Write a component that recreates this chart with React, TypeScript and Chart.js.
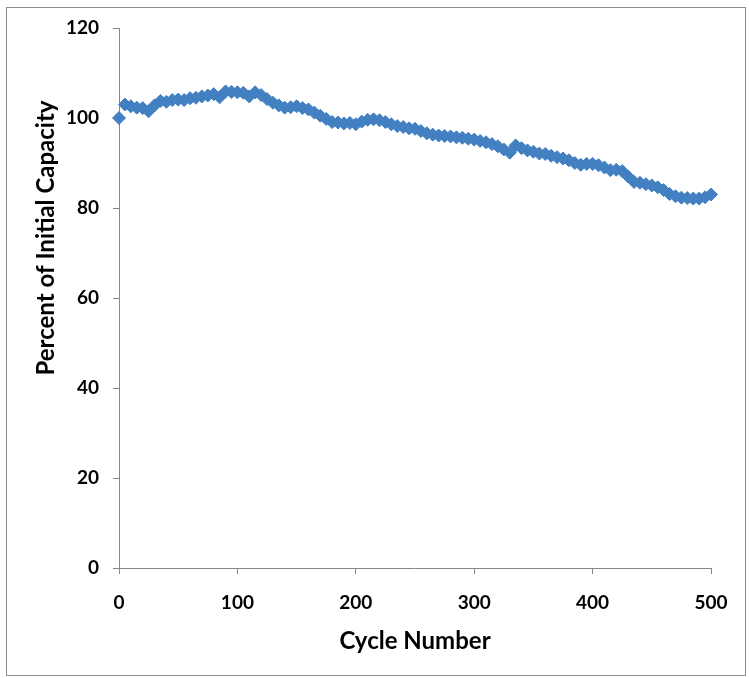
import React, { useEffect, useRef } from 'react';
import { Chart, registerables } from 'chart.js';

Chart.register(...registerables);

const cycles = [
  0, 5, 10, 15, 20, 25, 30, 35, 40, 45, 50, 55, 60, 65, 70, 75, 80, 85, 90, 95,
  100, 105, 110, 115, 120, 125, 130, 135, 140, 145, 150, 155, 160, 165, 170, 175, 180, 185, 190, 195,
  200, 205, 210, 215, 220, 225, 230, 235, 240, 245, 250, 255, 260, 265, 270, 275, 280, 285, 290, 295,
  300, 305, 310, 315, 320, 325, 330, 335, 340, 345, 350, 355, 360, 365, 370, 375, 380, 385, 390, 395,
  400, 405, 410, 415, 420, 425, 430, 435, 440, 445, 450, 455, 460, 465, 470, 475, 480, 485, 490, 495,
  500,
];

const capacity = [
  100.0, 103.0, 102.6, 102.3, 102.2, 101.5, 102.8, 103.8, 103.6, 104.0,
  104.1, 104.0, 104.4, 104.5, 104.8, 105.0, 105.3, 104.6, 105.9, 105.8,
  105.7, 105.6, 104.8, 105.7, 105.1, 104.2, 103.4, 102.8, 102.3, 102.4,
  102.6, 102.2, 101.9, 101.2, 100.5, 99.8, 99.1, 99.0, 98.8, 98.9,
  98.6, 99.2, 99.6, 99.7, 99.5, 99.1, 98.6, 98.2, 98.0, 97.7,
  97.6, 97.1, 96.6, 96.3, 96.1, 96.0, 95.9, 95.7, 95.6, 95.4,
  95.2, 94.9, 94.6, 94.2, 93.7, 93.0, 92.3, 93.9, 93.3, 92.8,
  92.5, 92.1, 92.0, 91.6, 91.3, 91.0, 90.6, 90.0, 89.6, 89.8,
  89.8, 89.5, 89.0, 88.4, 88.5, 88.2, 87.0, 85.8, 85.6, 85.3,
  85.0, 84.6, 84.0, 83.1, 82.6, 82.3, 82.2, 82.1, 82.1, 82.4,
  83.0,
];

const xTickValues = [0, 100, 200, 300, 400, 500];
const yTickValues = [0, 20, 40, 60, 80, 100, 120];

const xTitle = 'Cycle Number';
const yTitle = 'Percent of Initial Capacity';

const FONT = 'Lato, "Open Sans", sans-serif';
const AXIS_GREY = '#868686';
const BLUE = '#4280C2';

const framePlugin = {
  id: 'frame',
  beforeDraw(chart: any) {
    const { ctx, width, height } = chart;
    ctx.save();
    ctx.fillStyle = '#ffffff';
    ctx.fillRect(0, 0, width, height);
    ctx.strokeStyle = '#8c8c8c';
    ctx.lineWidth = 1;
    ctx.strokeRect(6.5, 7.5, 739, 668);
    ctx.restore();
  },
  afterDraw(chart: any) {
    const { ctx } = chart;
    ctx.save();
    ctx.translate(46, 238);
    ctx.rotate(-Math.PI / 2);
    ctx.font = `bold 24px ${FONT}`;
    ctx.fillStyle = '#000000';
    ctx.textAlign = 'center';
    ctx.textBaseline = 'middle';
    ctx.fillText(yTitle, 0, 0);
    ctx.restore();
  },
};

export default function App() {
  const canvasRef = useRef<HTMLCanvasElement | null>(null);

  useEffect(() => {
    const canvas = canvasRef.current;
    if (!canvas) return;
    const points = cycles.map((c, i) => ({ x: c, y: capacity[i] }));
    const chart = new Chart(canvas, {
      type: 'scatter',
      data: {
        datasets: [
          {
            label: 'Capacity',
            data: points,
            pointStyle: 'rectRot',
            pointRadius: 6.5,
            pointBackgroundColor: BLUE,
            pointBorderColor: BLUE,
            pointBorderWidth: 1,
            showLine: false,
            clip: false,
          },
        ],
      },
      options: {
        responsive: false,
        animation: false,
        devicePixelRatio: 1,
        layout: { padding: { left: 0, top: 28, right: 38, bottom: 0 } },
        plugins: {
          legend: { display: false },
          tooltip: { enabled: false },
        },
        scales: {
          x: {
            type: 'linear',
            min: 0,
            max: 500,
            afterBuildTicks: (scale: any) => {
              scale.ticks = xTickValues.map((v) => ({ value: v }));
            },
            afterFit: (scale: any) => {
              scale.height = 110;
            },
            grid: {
              drawOnChartArea: false,
              drawTicks: true,
              tickLength: 6,
              color: AXIS_GREY,
            },
            border: { display: true, color: AXIS_GREY, width: 1 },
            ticks: {
              color: '#000000',
              padding: 17,
              maxRotation: 0,
              font: { family: FONT, size: 19, weight: 'bold' },
            },
            title: {
              display: true,
              text: xTitle,
              color: '#000000',
              padding: { top: 0, bottom: 22 },
              font: { family: FONT, size: 24, weight: 'bold', lineHeight: 1.2 },
            },
          },
          y: {
            type: 'linear',
            min: 0,
            max: 120,
            afterBuildTicks: (scale: any) => {
              scale.ticks = yTickValues.map((v) => ({ value: v }));
            },
            afterFit: (scale: any) => {
              scale.width = 119;
            },
            grid: {
              drawOnChartArea: false,
              drawTicks: true,
              tickLength: 6,
              color: AXIS_GREY,
            },
            border: { display: true, color: AXIS_GREY, width: 1 },
            ticks: {
              color: '#000000',
              padding: 14,
              font: { family: FONT, size: 19, weight: 'bold' },
            },
          },
        },
      },
      plugins: [framePlugin],
    } as any);
    return () => chart.destroy();
  }, []);

  return (
    <div style={{ position: 'absolute', left: 0, top: 0, width: 749, height: 678, background: '#fff' }}>
      <canvas ref={canvasRef} width={749} height={678} style={{ display: 'block', width: 749, height: 678 }} />
    </div>
  );
}
